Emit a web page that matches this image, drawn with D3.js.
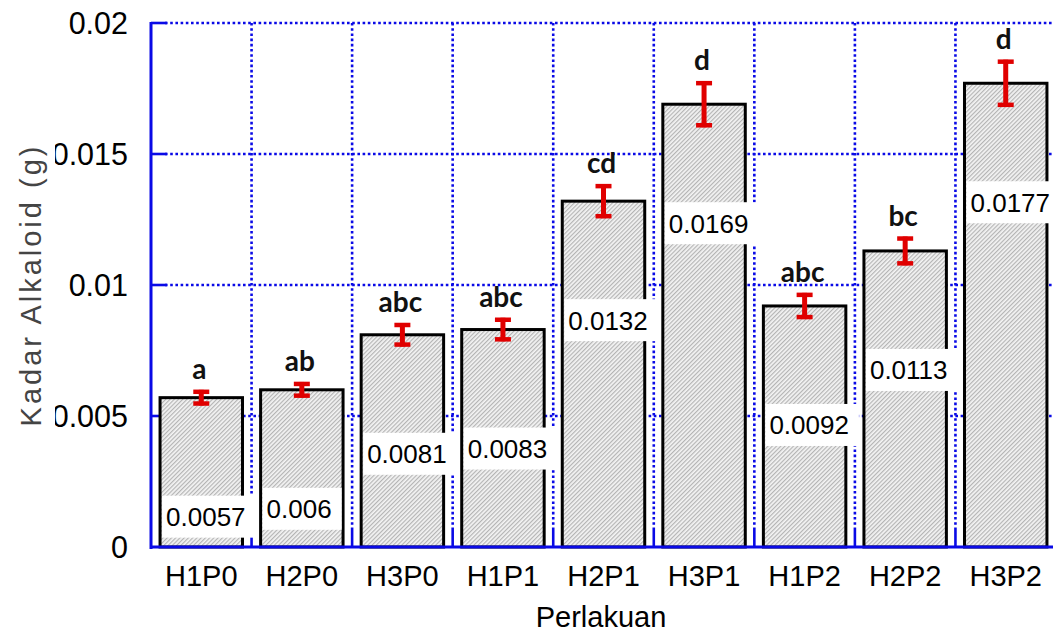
<!DOCTYPE html>
<html>
<head>
<meta charset="utf-8">
<script src="https://cdn.jsdelivr.net/npm/d3@7"></script>
<style>
  html, body { margin: 0; padding: 0; background: #fff; }
  svg { display: block; }
</style>
</head>
<body>
<svg id="chart" width="1053" height="634"></svg>
<script>
// ---- data ----
const categories = ["H1P0", "H2P0", "H3P0", "H1P1", "H2P1", "H3P1", "H1P2", "H2P2", "H3P2"];
const values     = [0.0057, 0.006, 0.0081, 0.0083, 0.0132, 0.0169, 0.0092, 0.0113, 0.0177];
const valueText  = ["0.0057", "0.006", "0.0081", "0.0083", "0.0132", "0.0169", "0.0092", "0.0113", "0.0177"];
const errors     = [0.0003, 0.0003, 0.00045, 0.00045, 0.00065, 0.00088, 0.0005, 0.00055, 0.0009];
const letters    = ["a", "ab", "abc", "abc", "cd", "d", "abc", "bc", "d"];
const yTicks     = [0, 0.005, 0.01, 0.015, 0.02];
const yTickText  = ["0", "0.005", "0.01", "0.015", "0.02"];
const xTitle = "Perlakuan";
const yTitle = "Kadar Alkaloid (g)";

(function () {
// ---- layout ----
const svg = d3.select("#chart");
const pL = 151, pR = 1056, pT = 23, pB = 547;
const blue = "#0a0ae6";
const red = "#e00000";

const x = d3.scaleBand().domain(categories).range([pL, pR])
  .paddingInner(0.18).paddingOuter(0.09);
const y = d3.scaleLinear().domain([0, 0.02]).range([pB, pT]);
const step = x.step();
const outer = step * 0.09;

// hatch pattern
const defs = svg.append("defs");
const pat = defs.append("pattern").attr("id", "hatch")
  .attr("patternUnits", "userSpaceOnUse").attr("width", 3).attr("height", 3)
  .attr("patternTransform", "rotate(45)");
pat.append("rect").attr("width", 3).attr("height", 3).attr("fill", "#f4f4f4");
pat.append("rect").attr("width", 1.2).attr("height", 3).attr("fill", "#b4b4b4");

// ---- grid ----
const grid = svg.append("g");
grid.selectAll("line.h").data(yTicks.filter(d => d > 0)).join("line")
  .attr("x1", pL + 14).attr("x2", 1053)
  .attr("y1", d => y(d)).attr("y2", d => y(d))
  .attr("stroke", blue).attr("stroke-width", 2.6).attr("stroke-dasharray", "2.6,2.6");
const bounds = categories.slice(1).map(c => x(c) - outer).concat([pR]);
grid.selectAll("line.v").data(bounds).join("line")
  .attr("x1", d => d).attr("x2", d => d)
  .attr("y1", pT).attr("y2", pB - 18)
  .attr("stroke", blue).attr("stroke-width", 2.6).attr("stroke-dasharray", "2.6,2.6");
grid.selectAll("line.vt").data(bounds).join("line")
  .attr("x1", d => d).attr("x2", d => d)
  .attr("y1", pB - 18).attr("y2", pB)
  .attr("stroke", blue).attr("stroke-width", 2.6);
grid.selectAll("line.ht").data(yTicks.filter(d => d > 0)).join("line")
  .attr("x1", pL).attr("x2", pL + 16)
  .attr("y1", d => y(d)).attr("y2", d => y(d))
  .attr("stroke", blue).attr("stroke-width", 2.6);

// ---- bars ----
svg.append("g").selectAll("rect").data(values).join("rect")
  .attr("x", (d, i) => x(categories[i]))
  .attr("y", d => y(d))
  .attr("width", x.bandwidth())
  .attr("height", d => y(0) - y(d))
  .attr("fill", "url(#hatch)")
  .attr("stroke", "#000").attr("stroke-width", 3);

// ---- axes lines ----
svg.append("line").attr("x1", pL).attr("x2", pL).attr("y1", pT - 1).attr("y2", pB + 2)
  .attr("stroke", blue).attr("stroke-width", 3);
svg.append("line").attr("x1", pL).attr("x2", 1053).attr("y1", pB).attr("y2", pB)
  .attr("stroke", blue).attr("stroke-width", 3);

// ---- error bars ----
const eg = svg.append("g").attr("stroke", red);
values.forEach((v, i) => {
  const cx = x(categories[i]) + x.bandwidth() / 2;
  const y1 = y(v + errors[i]), y2 = y(v - errors[i]);
  eg.append("line").attr("x1", cx).attr("x2", cx).attr("y1", y1).attr("y2", y2).attr("stroke-width", 5);
  eg.append("line").attr("x1", cx - 8).attr("x2", cx + 8).attr("y1", y1 + 2).attr("y2", y1 + 2).attr("stroke-width", 4.5);
  eg.append("line").attr("x1", cx - 8).attr("x2", cx + 8).attr("y1", y2 - 2).attr("y2", y2 - 2).attr("stroke-width", 4.5);
});

// ---- significance letters ----
svg.append("g").selectAll("text").data(letters).join("text")
  .attr("x", (d, i) => x(categories[i]) + x.bandwidth() / 2 - 2)
  .attr("y", (d, i) => y(values[i] + errors[i]) - 11)
  .attr("text-anchor", "middle")
  .attr("font-family", "Lato, 'Open Sans', sans-serif")
  .attr("font-weight", "bold").attr("font-size", 28)
  .attr("fill", "#111")
  .text(d => d);

// ---- value labels ----
const lg = svg.append("g");
values.forEach((v, i) => {
  const bx = x(categories[i]);
  const cy = y(v) + 119;
  const g = lg.append("g");
  const rect = g.append("rect").attr("fill", "#fff");
  const t = g.append("text")
    .attr("x", bx + 6).attr("y", cy).attr("dy", "0.36em")
    .attr("font-family", "Arial, 'Liberation Sans', sans-serif")
    .attr("font-size", 26).attr("fill", "#000")
    .text(valueText[i]);
  const w = t.node().getComputedTextLength();
  rect.attr("x", bx + 2).attr("y", cy - 21).attr("width", w + 14).attr("height", 42);
});

// ---- tick labels ----
svg.append("g").selectAll("text").data(yTicks).join("text")
  .attr("x", 128).attr("y", d => y(d)).attr("dy", "0.36em")
  .attr("text-anchor", "end")
  .attr("font-family", "Arial, 'Liberation Sans', sans-serif")
  .attr("font-size", 30.5).attr("fill", "#000")
  .text((d, i) => yTickText[i]);

svg.append("g").selectAll("text").data(categories).join("text")
  .attr("x", d => x(d) + x.bandwidth() / 2)
  .attr("y", 586)
  .attr("text-anchor", "middle")
  .attr("font-family", "Arial, 'Liberation Sans', sans-serif")
  .attr("font-size", 29).attr("fill", "#000")
  .text(d => d);

// ---- axis titles ----
svg.append("text")
  .attr("x", 601).attr("y", 627)
  .attr("text-anchor", "middle")
  .attr("font-family", "Arial, 'Liberation Sans', sans-serif")
  .attr("font-size", 29).attr("fill", "#000")
  .text(xTitle);

const yt = svg.append("g").attr("transform", `translate(31,${(pT + pB) / 2}) rotate(-90)`);
yt.append("rect").attr("x", -150).attr("y", -22).attr("width", 300).attr("height", 46).attr("fill", "#fff");
yt.append("text")
  .attr("x", 0).attr("y", 0).attr("dy", "0.36em")
  .attr("text-anchor", "middle")
  .attr("font-family", "Arial, 'Liberation Sans', sans-serif")
  .attr("font-size", 29).attr("letter-spacing", 3).attr("fill", "#444")
  .text(yTitle);
})();
</script>
</body>
</html>
